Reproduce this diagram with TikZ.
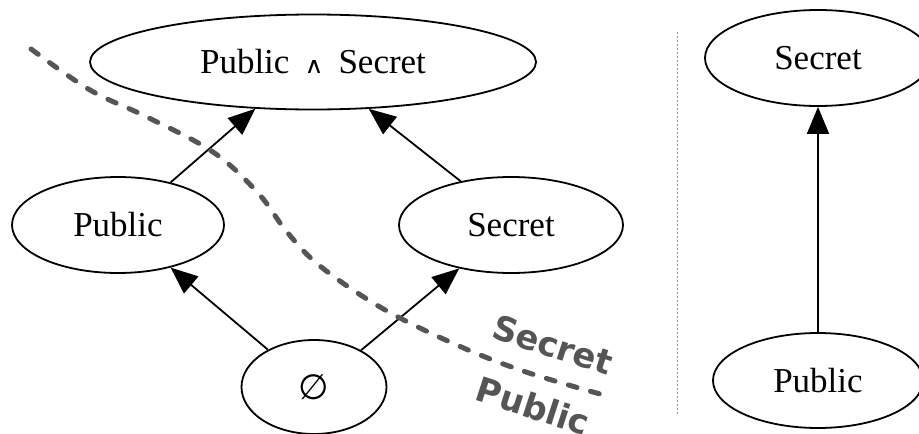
\documentclass[tikz,border=0pt]{standalone}
\usepackage{fontspec}
\usepackage{graphicx}
\setmainfont{Liberation Serif}
\newfontfamily\dejavu{DejaVu Sans}
\usetikzlibrary{shapes.geometric,arrows.meta}
\definecolor{cutgray}{RGB}{85,85,85}
\definecolor{divgray}{RGB}{150,150,150}
\begin{document}
\begin{tikzpicture}[x=1pt,y=-1pt,
  lat/.style={draw, ellipse, line width=1.8pt, inner sep=0pt, font=\fontsize{35}{40}\selectfont},
  arr/.style={line width=1.8pt, -{Triangle[length=27pt,width=22pt]}},
  cut/.style={cutgray, line width=5pt, line cap=round, dash pattern=on 9pt off 14pt},
  cutlabel/.style={text=cutgray, font=\dejavu\bfseries\fontsize{34}{40}\selectfont, rotate=-18, inner sep=0pt},
  divider/.style={divgray, line width=1pt, dash pattern=on 2pt off 2pt}
]
\useasboundingbox (0,0) rectangle (919,434);

\node[lat, minimum width=446pt, minimum height=95pt] (top) at (313,62)
  {Public\hspace{15pt}\resizebox{19pt}{13pt}{\dejavu ∧}\hspace{15pt}Secret};
\node[lat, minimum width=212pt, minimum height=96pt] (pubL) at (118,225) {Public};
\node[lat, minimum width=224pt, minimum height=96pt] (secM) at (511,225) {Secret};
\node[lat, minimum width=145pt, minimum height=94pt] (bot) at (314,387) {\dejavu ∅};
\node[lat, minimum width=226pt, minimum height=96pt] (secR) at (818,58) {Secret};
\node[lat, minimum width=210pt, minimum height=95pt] (pubR) at (818,380.5) {Public};

\draw[arr] (pubL.39.6) -- (top.219.9);
\draw[arr] (secM.139.9) -- (top.320.1);
\draw[arr] (bot.141.2) -- (pubL.321.1);
\draw[arr] (bot.38.8) -- (secM.220.6);
\draw[arr] (pubR) -- (secR);

\draw[cut] plot[smooth, tension=0.6] coordinates {(31,49) (90,90) (147,117) (213,152) (258,193) (287,232) (320,266) (380,307) (450,342) (520,370) (600,394)};

\node[cutlabel] (seclab) at (553,345) {Secret};
\node[cutlabel] (publab) at (533,406) {Public};

\coordinate (d1) at (677,32);
\coordinate (d2) at (677,415);
\draw[divider] (d1) -- (d2);
\end{tikzpicture}
\end{document}
